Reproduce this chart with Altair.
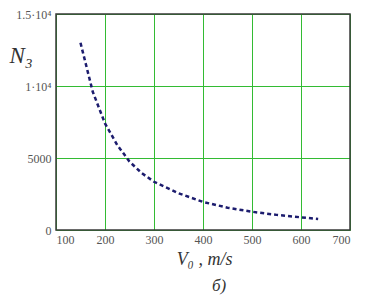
import altair as alt
import pandas as pd

v0 = [150, 175, 200, 225, 250, 275, 300, 350, 400, 450, 500, 550, 600, 635]
n3 = [13000, 9600, 7400, 5900, 4750, 3950, 3350, 2550, 1950, 1550, 1270, 1050, 880, 770]
x_ticks = [100, 200, 300, 400, 500, 600, 700]
y_ticks = [0, 5000, 10000, 15000]

df = pd.DataFrame({"V": v0, "N": n3})

FONT = "Liberation Serif"
GRID = "#33bb33"
LABEL = "#555555"
W, H = 294, 216

line = alt.Chart(df).mark_line(
    color="#1c1c6e", strokeDash=[4, 3], strokeWidth=2.5
).encode(
    x=alt.X("V:Q", scale=alt.Scale(domain=[100, 700], nice=False),
            axis=alt.Axis(values=x_ticks, grid=True, gridColor=GRID, gridWidth=1,
                          gridOpacity=1, ticks=False, domain=False,
                          labelFont=FONT, labelFontSize=12, labelColor=LABEL,
                          labelPadding=4,
                          title="V₀ , m/s", titleFont=FONT, titleFontSize=18,
                          titleFontStyle="italic", titleFontWeight="normal",
                          titleColor="#333333", titleX=148, titleY=34,
                          titleBaseline="alphabetic", titleAlign="center")),
    y=alt.Y("N:Q", scale=alt.Scale(domain=[0, 15000], nice=False),
            axis=alt.Axis(values=y_ticks, grid=True, gridColor=GRID, gridWidth=1,
                          gridOpacity=1, ticks=False, domain=False, format="d",
                          labelExpr="datum.value == 10000 ? '1·10⁴' : datum.value == 15000 ? '1.5·10⁴' : datum.label",
                          labelFont=FONT, labelFontSize=12, labelColor=LABEL,
                          labelPadding=5,
                          title="N₃", titleFont=FONT, titleFontSize=23,
                          titleFontStyle="italic", titleFontWeight="normal",
                          titleColor="#333333", titleAngle=0, titleX=-47, titleY=48,
                          titleBaseline="alphabetic", titleAlign="left")),
)

frame = alt.Chart(pd.DataFrame({"k": [0]})).mark_rect(
    fill="transparent", stroke="#3a3a3a", strokeWidth=1.5
).encode(x=alt.value(0), x2=alt.value(W), y=alt.value(0), y2=alt.value(H))

caption = alt.Chart(pd.DataFrame({"k": [0]})).mark_text(
    font=FONT, fontSize=17, fontStyle="italic", color="#333333",
    align="center", baseline="alphabetic"
).encode(x=alt.value(163), y=alt.value(277), text=alt.value("б)"))

chart = alt.layer(line, frame, caption).properties(
    width=W, height=H,
    padding={"left": 48, "top": 6, "right": 9, "bottom": 66},
    autosize="none",
).configure_view(stroke=None)

chart.save("out.html", embed_options={"renderer": "svg", "actions": False})
